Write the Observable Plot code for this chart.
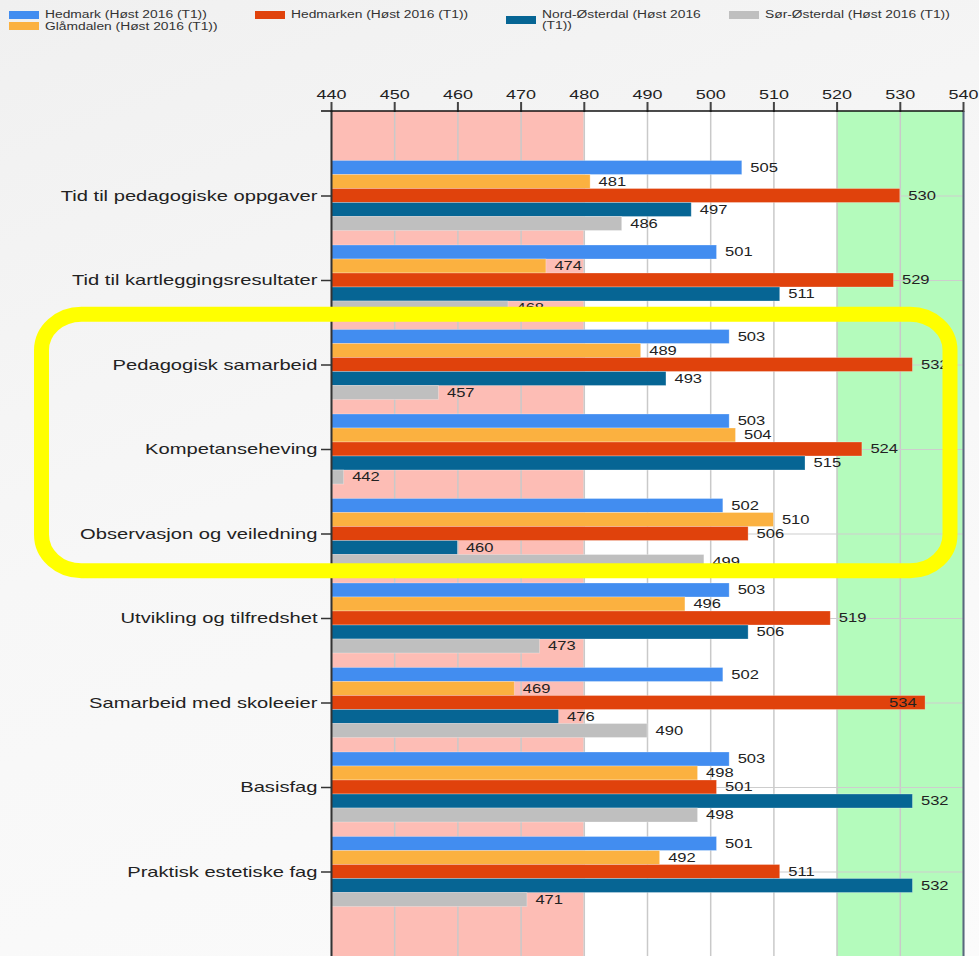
<!DOCTYPE html>
<html>
<head>
<meta charset="utf-8">
<script src="https://cdn.jsdelivr.net/npm/d3@7"></script>
<script src="https://cdn.jsdelivr.net/npm/@observablehq/plot@0.6"></script>
<style>
  html, body { margin: 0; padding: 0; }
  body {
    width: 979px; height: 956px; overflow: hidden;
    background: linear-gradient(160deg, #f0f0f0 0%, #f7f7f7 45%, #fbfbfb 100%);
    font-family: "Liberation Sans", Arial, sans-serif;
  }
  #legend { position: relative; height: 40px; }
  .sw { position: absolute; width: 30px; height: 8px; }
  .lab {
    position: absolute; font-size: 10px; line-height: 11px; color: #333;
    transform-origin: 0 0; transform: scaleX(1.38); white-space: nowrap;
  }
  .lab.wrap { white-space: normal; width: 128px; }
  #chart svg { display: block; }
</style>
</head>
<body>
<div id="legend"></div>
<div id="chart"></div>
<script>
// ---------- data ----------
const categories = [
  "Tid til pedagogiske oppgaver",
  "Tid til kartleggingsresultater",
  "Pedagogisk samarbeid",
  "Kompetanseheving",
  "Observasjon og veiledning",
  "Utvikling og tilfredshet",
  "Samarbeid med skoleeier",
  "Basisfag",
  "Praktisk estetiske fag"
];
const seriesNames = [
  "Hedmark (Høst 2016 (T1))",
  "Glåmdalen (Høst 2016 (T1))",
  "Hedmarken (Høst 2016 (T1))",
  "Nord-Østerdal (Høst 2016 (T1))",
  "Sør-Østerdal (Høst 2016 (T1))"
];
const seriesColors = ["#428df0", "#fbb140", "#e0420c", "#066594", "#bfbfbf"];
const hedmark      = [505, 501, 503, 503, 502, 503, 502, 503, 501];
const glamdalen    = [481, 474, 489, 504, 510, 496, 469, 498, 492];
const hedmarken    = [530, 529, 532, 524, 506, 519, 534, 501, 511];
const nordOsterdal = [497, 511, 493, 515, 460, 506, 476, 532, 532];
const sorOsterdal  = [486, 468, 457, 442, 499, 473, 490, 498, 471];
const xTicks = [440, 450, 460, 470, 480, 490, 500, 510, 520, 530, 540];
const zoneFrom = [440, 480, 520];
const zoneTo   = [480, 520, 540];
const zoneFill = ["#fdbdb5", "#ffffff", "#b4fbbc"];
const highlighted = ["Pedagogisk samarbeid", "Observasjon og veiledning"];

const seriesValues = [hedmark, glamdalen, hedmarken, nordOsterdal, sorOsterdal];

// ---------- legend ----------
const legendLayout = [
  {s: 0, left: 9,   swTop: 11, labTop: 9},
  {s: 1, left: 9,   swTop: 22, labTop: 21},
  {s: 2, left: 255, swTop: 11, labTop: 9},
  {s: 3, left: 506, swTop: 16, labTop: 9, wrap: true},
  {s: 4, left: 729, swTop: 11, labTop: 9}
];
const legend = document.getElementById("legend");
for (const it of legendLayout) {
  const sw = document.createElement("div");
  sw.className = "sw";
  sw.style.left = it.left + "px";
  sw.style.top = it.swTop + "px";
  sw.style.background = seriesColors[it.s];
  legend.appendChild(sw);
  const lab = document.createElement("div");
  lab.className = "lab" + (it.wrap ? " wrap" : "");
  lab.style.left = (it.left + 36) + "px";
  lab.style.top = it.labTop + "px";
  lab.textContent = seriesNames[it.s];
  legend.appendChild(lab);
}

// ---------- chart ----------
const W = 979, H = 916, MT = 71, MB = 0, ML = 331, MR = 16;
const step = (H - MT - MB) / (categories.length + 1);
const barH = 14;
const nS = seriesNames.length;
const xMin = xTicks[0], xMax = xTicks[xTicks.length - 1];

const zones = zoneFrom.map((f, i) => ({from: f, to: zoneTo[i], fill: zoneFill[i]}));

const marks = [];
marks.push(Plot.rectX(zones, {x1: "from", x2: "to", fill: "fill"}));
marks.push(Plot.ruleX(xTicks, {stroke: "#c9c9c9", strokeWidth: 1.5}));
marks.push(Plot.ruleY(categories, {stroke: "#cdcdcd", strokeWidth: 1.2}));

seriesValues.forEach((vals, i) => {
  const data = categories.map((c, j) => ({c, v: vals[j]}));
  const off = step / 2 - (nS * barH) / 2 + barH * i;
  marks.push(Plot.barX(data, {
    y: "c", x1: xMin, x2: "v", fill: seriesColors[i],
    stroke: "white", strokeOpacity: 0.35, strokeWidth: 0.8,
    insetTop: off, insetBottom: step - off - barH
  }));
  const dy = barH * (i - (nS - 1) / 2);
  marks.push(Plot.text(data.filter(d => d.v <= 533), {
    y: "c", x: "v", text: d => String(d.v), dy, dx: 8,
    textAnchor: "start", fill: "#222", fontSize: 12
  }));
  marks.push(Plot.text(data.filter(d => d.v > 533), {
    y: "c", x: "v", text: d => String(d.v), dy, dx: -9,
    textAnchor: "end", fill: "#222", fontSize: 12
  }));
});

marks.push(Plot.ruleX([xMin], {stroke: "#333", strokeWidth: 2}));
marks.push(Plot.ruleX([xMax], {stroke: "#56697c", strokeWidth: 2}));

marks.push(Plot.axisX({anchor: "top", ticks: xTicks, tickSize: 10, tickPadding: 3,
  fontSize: 13, stroke: "#444", strokeWidth: 2, label: null, tickFormat: d => String(d)}));
marks.push(Plot.axisY({anchor: "left", tickSize: 10, tickPadding: 4,
  fontSize: 14.6, stroke: "#333", strokeWidth: 1.5, label: null}));

// overlay: frame top line + yellow highlight box
marks.push(function (index, scales, values, dims) {
  const x = scales.x, y = scales.y;
  const bw = y.bandwidth ? y.bandwidth() : 0;
  const g = d3.create("svg:g");
  g.append("line")
    .attr("x1", dims.marginLeft - 10).attr("x2", x(xMax))
    .attr("y1", dims.marginTop).attr("y2", dims.marginTop)
    .attr("stroke", "#111").attr("stroke-width", 1.5);
  const top = y(highlighted[0]) - 8;
  const bottom = y(highlighted[1]) + bw - 5;
  const left = 41.5;
  const right = x(xMax) - 13;
  g.append("rect")
    .attr("x", left).attr("y", top)
    .attr("width", right - left).attr("height", bottom - top)
    .attr("rx", 40).attr("ry", 36)
    .attr("fill", "none").attr("stroke", "#ffff00").attr("stroke-width", 15);
  return g.node();
});

const chart = Plot.plot({
  width: W, height: H,
  marginTop: MT, marginBottom: MB, marginLeft: ML, marginRight: MR,
  style: {background: "transparent", fontFamily: "'Liberation Sans', Arial, sans-serif", color: "#222"},
  x: {domain: [xMin, xMax], axis: null},
  y: {domain: categories, paddingInner: 0, paddingOuter: 0.5, round: false, axis: null},
  marks
});
document.getElementById("chart").appendChild(chart);

// horizontally stretched text, as in the reference screenshot
chart.querySelectorAll("text").forEach(t => {
  const L = t.getComputedTextLength();
  if (L > 0) {
    t.setAttribute("textLength", (L * 1.38).toFixed(1));
    t.setAttribute("lengthAdjust", "spacingAndGlyphs");
  }
});
</script>
</body>
</html>
